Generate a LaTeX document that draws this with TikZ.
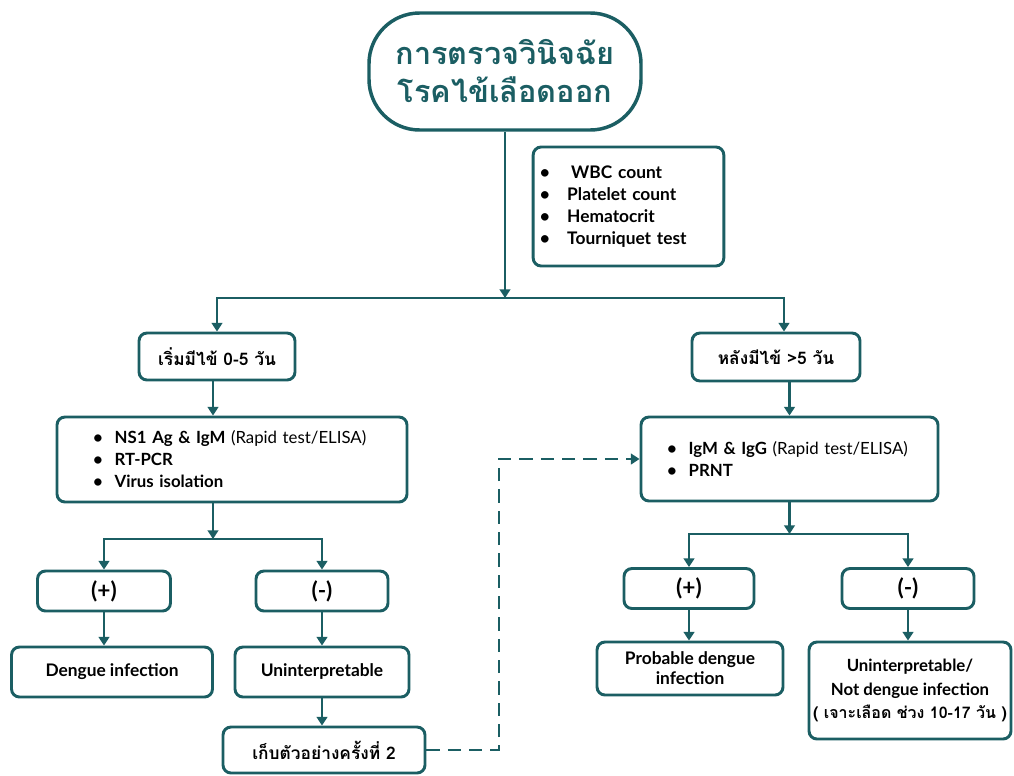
\documentclass[tikz,border=0pt]{standalone}
\usepackage{fontspec}
\setmainfont{Lato}
\newfontfamily\thaifont[Script=Thai]{Loma}
\usetikzlibrary{arrows.meta,positioning,calc}
\definecolor{dteal}{HTML}{1B5E63}

\begin{document}
\begin{tikzpicture}[
  x=0.75pt,y=-0.75pt,
  font=\bfseries\fontsize{13}{16.5}\selectfont,
  >={Triangle[width=8pt,length=6.5pt]},
  box/.style={draw=dteal,line width=2.2pt,rounded corners=6pt,fill=white,
              align=center,inner sep=2pt},
  headbox/.style={box,rounded corners=38pt,line width=2.6pt,text=dteal,
                  font=\thaifont\bfseries\fontsize{23}{28.5}\selectfont},
  thaibox/.style={box,font=\thaifont\bfseries\fontsize{13}{15}\selectfont},
  listbox/.style={box,align=left,inner ysep=2pt,font=\bfseries\fontsize{12.6}{16.5}\selectfont},
  signbox/.style={box,minimum height=30pt,font=\bfseries\fontsize{17}{18}\selectfont},
  arr/.style={->,draw=dteal,line width=2pt},
]
\useasboundingbox (0,0) rectangle (1014,775);

% ---- heading and basic lab tests --------------------------------------
\node[headbox,minimum width=204pt,minimum height=87.75pt] (diag) at (505,71.5)
  {การตรวจวินิจฉัย\\โรคไข้เลือดออก};
\node[listbox,text width=133pt,inner xsep=5pt,minimum height=89.25pt,
      font=\bfseries\fontsize{13}{16.5}\selectfont] (lab) at (628.5,206.5)
  {\textbullet\hspace{16pt}WBC count\\
   \textbullet\hspace{13pt}Platelet count\\
   \textbullet\hspace{13pt}Hematocrit\\
   \textbullet\hspace{13pt}Tourniquet test};
\coordinate (split) at (505,298);

% ---- fever day 0-5 -------------------------------------------------------
\node[thaibox,minimum width=117pt,minimum height=35.25pt] (early) at (217,356.5) {เริ่มมีไข้ 0-5 วัน};
\node[listbox,text width=208.5pt,inner xsep=27pt,minimum height=63.75pt] (earlytest) at (232,459.5)
  {\textbullet\hspace{9pt}NS1 Ag \& IgM {\mdseries(Rapid test/ELISA)}\\
   \textbullet\hspace{9pt}RT-PCR\\
   \textbullet\hspace{9pt}Virus isolation};
\coordinate (esplit) at (213,539);
\node[signbox,minimum width=99.75pt] (epos) at (104,591) {(+)};
\node[signbox,minimum width=99pt] (eneg) at (322,591) {(-)};
\node[box,minimum width=150.75pt,minimum height=37.5pt] (edengue) at (112,672) {Dengue infection};
\node[box,minimum width=130.5pt,minimum height=37.5pt] (euninterp) at (322,672) {Uninterpretable};
\node[thaibox,minimum width=151.5pt,minimum height=34.5pt] (resample) at (324,750) {เก็บตัวอย่างครั้งที่ 2};

% ---- fever day >5 --------------------------------------------------------
\node[thaibox,minimum width=126pt,minimum height=36pt] (late) at (776,357) {หลังมีไข้ >5 วัน};
\node[listbox,text width=183.75pt,inner xsep=19.5pt,minimum height=63pt] (latetest) at (789.5,459)
  {\textbullet\hspace{9pt}IgM \& IgG {\mdseries(Rapid test/ELISA)}\\
   \textbullet\hspace{9pt}PRNT};
\coordinate (lsplit) at (789.5,534);
\node[signbox,minimum width=97.5pt] (lpos) at (689,588.5) {(+)};
\node[signbox,minimum width=99pt] (lneg) at (908,588.5) {(-)};
\node[box,minimum width=139.5pt,minimum height=39.75pt,font=\bfseries\fontsize{13}{15}\selectfont]
  (lprob) at (690,668.5) {Probable dengue\\infection};
\node[box,minimum width=151.5pt,minimum height=72.75pt,inner xsep=1pt,
      font=\bfseries\fontsize{12.6}{17.6}\selectfont]
  (lnot) at (910,690.5)
  {Uninterpretable/\\Not dengue infection\\{\thaifont\fontsize{12}{17.6}\selectfont( เจาะเลือด ช่วง 10-17 วัน )}};
\coordinate (dashx) at (499,0);

% ---- connectors ----------------------------------------------------------
\draw[arr] (diag.south) -- (diag.south |- split);
\draw[arr] (split) -| (early);
\draw[arr] (split) -| ([xshift=6pt]late.north);
\draw[arr] ([xshift=-3pt]early.south) -- ([xshift=-3pt]early.south |- earlytest.north);
\draw[arr] (late.south -| latetest.north) -- (latetest.north);
\draw[arr] (earlytest.south -| esplit) -- (esplit);
\draw[arr] (esplit) -| (epos);
\draw[arr] (esplit) -| (eneg);
\draw[arr] (epos.south) -- (epos.south |- edengue.north);
\draw[arr] (eneg) -- (euninterp);
\draw[arr] (euninterp.south) -- (euninterp.south |- resample.north);
\draw[arr] (latetest.south) -- (lsplit);
\draw[arr] (lsplit) -| (lpos);
\draw[arr] (lsplit) -| (lneg);
\draw[arr] (lpos.south) -- (lpos.south |- lprob.north);
\draw[arr] (lneg.south) -- (lneg.south |- lnot.north);
\draw[arr,dash pattern=on 10pt off 6pt] (resample) -- (resample -| dashx) |- (latetest);
\end{tikzpicture}
\end{document}
